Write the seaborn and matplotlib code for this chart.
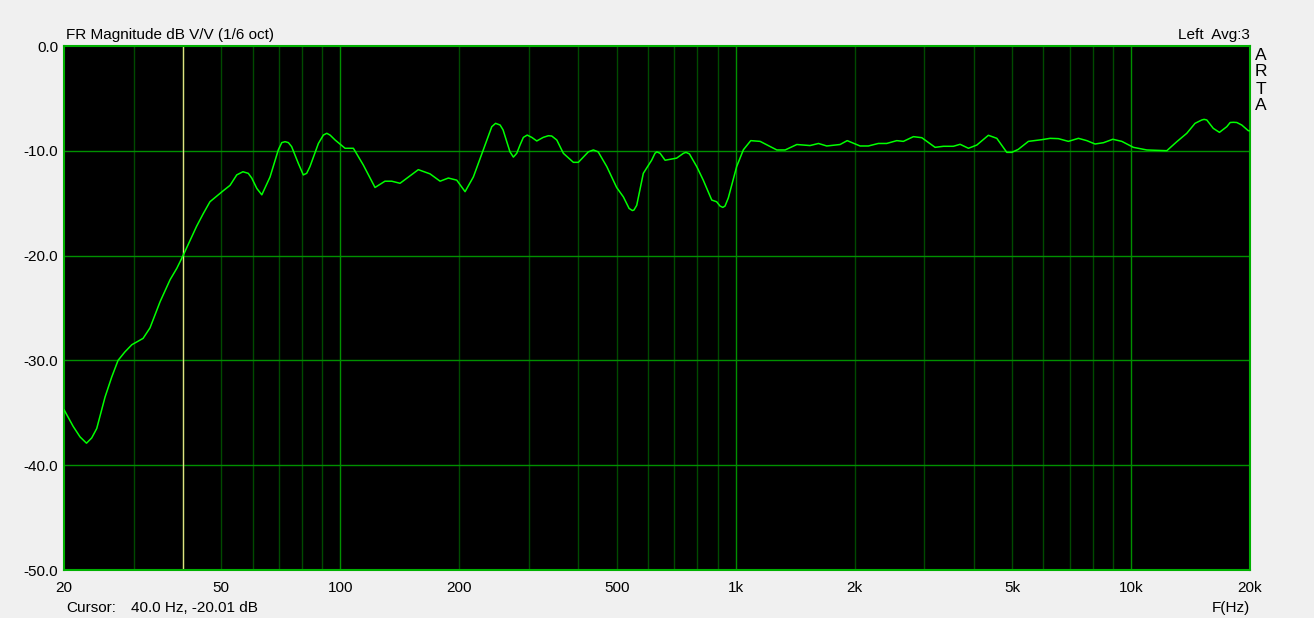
import numpy as np
import pandas as pd
import matplotlib
matplotlib.use("Agg")
import matplotlib.pyplot as plt
import seaborn as sns

# --- data (1/6 oct smoothed response) ---
freq_hz = [20, 21.1, 21.96, 22.8, 23.5, 24.2, 25.4, 26.4, 27.4, 28.5, 29.7, 31.7, 33.0,
           35.0, 37.1, 38.6, 40.0, 43.3, 45.0, 46.8, 50.6, 52.6, 54.7, 56.7, 58.5, 59.7,
           61.5, 63.3, 66.4, 69.7, 71.1, 72.5, 73.9, 75.3, 78.3, 80.6, 82.2, 83.8, 88.0,
           90.6, 92.4, 94.2, 97.0, 102.8, 107.9, 114.3, 122.4, 129.7, 134.9, 141.6,
           157.5, 168.6, 178.8, 187.6, 197, 206.8, 217, 230, 241.6, 247, 253.6, 258,
           268.6, 274, 279.4, 284.8, 290.4, 297, 305, 314, 326, 336, 342.6, 352.8,
           366.6, 388.6, 400, 424, 436.6, 449, 472, 500, 520, 537.6, 548, 553, 562,
           584, 613, 625, 632, 644, 663, 709, 737.6, 749, 764, 797, 828, 870, 895,
           913, 928, 940, 958, 1006, 1046, 1092, 1153, 1271, 1334, 1428, 1542, 1620,
           1700, 1837, 1915, 2064, 2166, 2296, 2410, 2556, 2656, 2816, 2957, 3195,
           3354, 3554, 3696, 3880, 4074, 4358, 4577, 4851, 4994, 5188, 5502, 5948,
           6243, 6552, 6944, 7362, 7730, 8110, 8514, 8994, 9480, 10140, 10965, 12320,
           13060, 13840, 14520, 15100, 15310, 15550, 16150, 16740, 17470, 17820,
           18160, 18520, 19060, 19800, 20000]
mag_db = [-34.7, -36.3, -37.3, -37.9, -37.4, -36.5, -33.5, -31.6, -30.0, -29.2, -28.5,
          -27.9, -26.9, -24.4, -22.3, -21.2, -20.01, -17.2, -16.0, -14.86, -13.8, -13.3,
          -12.3, -12.0, -12.15, -12.6, -13.6, -14.2, -12.5, -9.9, -9.22, -9.13, -9.22,
          -9.6, -11.2, -12.3, -12.15, -11.5, -9.3, -8.5, -8.33, -8.5, -8.97, -9.76,
          -9.76, -11.35, -13.5, -12.9, -12.9, -13.1, -11.8, -12.2, -12.9, -12.6, -12.8,
          -13.9, -12.5, -9.9, -7.7, -7.38, -7.54, -8.0, -10.1, -10.6, -10.24, -9.45,
          -8.72, -8.5, -8.72, -9.06, -8.72, -8.56, -8.59, -8.97, -10.24, -11.1, -11.1,
          -10.1, -9.92, -10.1, -11.5, -13.5, -14.4, -15.5, -15.7, -15.65, -15.2, -12.15,
          -10.9, -10.24, -10.1, -10.24, -10.9, -10.7, -10.24, -10.15, -10.3, -11.5,
          -12.8, -14.7, -14.86, -15.27, -15.4, -15.27, -14.5, -11.5, -9.9, -9.03, -9.1,
          -9.92, -9.92, -9.4, -9.5, -9.3, -9.54, -9.4, -9.03, -9.54, -9.54, -9.3, -9.3,
          -9.03, -9.1, -8.65, -8.75, -9.67, -9.57, -9.57, -9.38, -9.76, -9.45, -8.52,
          -8.81, -10.15, -10.15, -9.86, -9.1, -8.94, -8.81, -8.84, -9.1, -8.81, -9.03,
          -9.35, -9.23, -8.9, -9.1, -9.67, -9.92, -9.99, -9.13, -8.33, -7.38, -7.06,
          -7.0, -7.06, -7.86, -8.24, -7.7, -7.3, -7.28, -7.3, -7.54, -8.08, -8.1]

x_ticks = [20, 50, 100, 200, 500, 1000, 2000, 5000, 10000, 20000]
x_tick_labels = ["20", "50", "100", "200", "500", "1k", "2k", "5k", "10k", "20k"]
y_ticks = [0, -10, -20, -30, -40, -50]
y_tick_labels = ["0.0", "-10.0", "-20.0", "-30.0", "-40.0", "-50.0"]
cursor_hz = 40.0

df = pd.DataFrame({"freq": freq_hz, "db": mag_db})

sns.set_style("dark")
plt.rcParams['font.family'] = ['Liberation Sans', 'DejaVu Sans']
plt.rcParams['text.color'] = 'black'

fig = plt.figure(figsize=(13.14, 6.18), dpi=100, facecolor="#f0f0f0")
ax = fig.add_axes([64 / 1314, 48 / 618, 1186 / 1314, 524 / 618])
ax.set_facecolor("black")
ax.set_xscale("log")
ax.set_xlim(20, 20000)
ax.set_ylim(-50, 0)

# grid: dim minor verticals, brighter decades and dB lines
minor_lines = [f * d for d in (10, 100, 1000) for f in range(2, 10) if 20 < f * d < 20000]
for f in minor_lines:
    ax.axvline(f, color="#004a00", lw=1, zorder=1)
for f in (100, 1000, 10000):
    ax.axvline(f, color="#009000", lw=1, zorder=1)
for y in y_ticks[1:-1]:
    ax.axhline(y, color="#009000", lw=1, zorder=1)
ax.axvline(cursor_hz, color="#e0e080", lw=1, zorder=2)

sns.lineplot(data=df, x="freq", y="db", ax=ax, color="#00ff00", lw=1.1, zorder=3)

ax.set_xticks(x_ticks)
ax.set_xticklabels(x_tick_labels)
ax.xaxis.set_minor_locator(matplotlib.ticker.NullLocator())
ax.set_yticks(y_ticks)
ax.set_yticklabels(y_tick_labels)
ax.tick_params(length=0, labelsize=11, colors="black")
ax.tick_params(axis="x", pad=8)
ax.tick_params(axis="y", pad=4)
ax.set_xlabel("")
ax.set_ylabel("")
ax.grid(False)
for s in ax.spines.values():
    s.set_color("#00b000")
    s.set_linewidth(1.5)
    s.set_visible(True)

fig.text(66 / 1314, 1 - 35 / 618, "FR Magnitude dB V/V (1/6 oct)", fontsize=11, va="center")
fig.text(1250 / 1314, 1 - 35 / 618, "Left  Avg:3", fontsize=11, va="center", ha="right")
fig.text(66 / 1314, 1 - 608 / 618, "Cursor:", fontsize=11, va="center")
fig.text(131 / 1314, 1 - 608 / 618, "40.0 Hz, -20.01 dB", fontsize=11, va="center")
fig.text(1250 / 1314, 1 - 608 / 618, "F(Hz)", fontsize=11, va="center", ha="right")
for i, ch in enumerate("ARTA"):
    fig.text(1261 / 1314, 1 - (55 + i * 17) / 618, ch, fontsize=12.5, va="center", ha="center")

fig.savefig("out.png", dpi=100, facecolor=fig.get_facecolor())
